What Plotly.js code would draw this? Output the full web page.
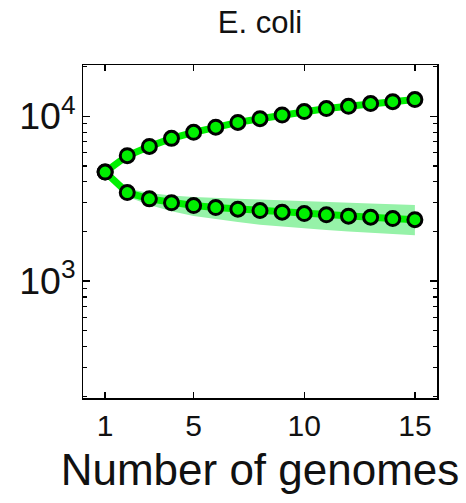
<!DOCTYPE html>
<html>
<head>
<meta charset="utf-8">
<script src="https://cdn.plot.ly/plotly-3.0.1.min.js"></script>
<style>
  html, body { margin: 0; padding: 0; background: #ffffff; }
  #chart { width: 466px; height: 503px; }
</style>
</head>
<body>
<div id="chart"></div>
<script>
// Pan- and core-genome size of E. coli versus number of sampled genomes
const genomes = [1, 2, 3, 4, 5, 6, 7, 8, 9, 10, 11, 12, 13, 14, 15];
const panGenome = [4590, 5770, 6570, 7350, 8000, 8600, 9190, 9680, 10190, 10690, 11150, 11510, 11950, 12280, 12640];
const coreGenome = [4590, 3446, 3155, 2985, 2873, 2793, 2731, 2679, 2619, 2570, 2523, 2477, 2443, 2395, 2359];
// spread of the core-genome estimate
const coreUpper = [4590, 3650, 3420, 3310, 3240, 3190, 3160, 3130, 3090, 3050, 3020, 2990, 2960, 2930, 2900];
const coreLower = [4590, 3250, 2900, 2650, 2480, 2370, 2280, 2200, 2140, 2080, 2040, 2000, 1960, 1930, 1900];
const xTicks = [1, 5, 10, 15];

const GREEN = '#00f000';
const BAND = '#96f2a8';
const FONT = '"Liberation Sans", Arial, Helvetica, sans-serif';

const marker = {
  symbol: 'circle',
  size: 14,
  color: GREEN,
  line: { color: '#000000', width: 3 }
};

const traces = [
  {
    x: genomes, y: coreUpper, type: 'scatter', mode: 'lines',
    line: { width: 0, color: BAND }, hoverinfo: 'skip', showlegend: false
  },
  {
    x: genomes, y: coreLower, type: 'scatter', mode: 'lines',
    line: { width: 0, color: BAND }, fill: 'tonexty', fillcolor: BAND,
    hoverinfo: 'skip', showlegend: false
  },
  {
    x: genomes, y: coreGenome, type: 'scatter', mode: 'lines+markers',
    name: 'Core genome', line: { color: GREEN, width: 7 }, marker: marker
  },
  {
    x: genomes, y: panGenome, type: 'scatter', mode: 'lines+markers',
    name: 'Pan genome', line: { color: GREEN, width: 7 }, marker: marker
  }
];

const layout = {
  width: 466,
  height: 503,
  margin: { l: 83, r: 29, t: 65, b: 105 },
  paper_bgcolor: '#ffffff',
  plot_bgcolor: '#ffffff',
  showlegend: false,
  font: { family: FONT, color: '#111111' },
  title: {
    text: 'E. coli',
    font: { family: FONT, size: 31, color: '#111111' },
    x: 0.5, xref: 'paper', xanchor: 'center',
    y: 0.955, yref: 'container', yanchor: 'middle'
  },
  xaxis: {
    range: [0, 16],
    tickvals: xTicks,
    ticktext: xTicks.map(String),
    ticks: 'inside', ticklen: 6, tickwidth: 1.5, tickcolor: '#000000',
    showline: true, linecolor: '#000000', linewidth: 1.5, mirror: 'ticks',
    showgrid: false, zeroline: false,
    tickfont: { family: FONT, size: 30, color: '#111111' },
    title: {
      text: 'Number of genomes',
      font: { family: FONT, size: 44, color: '#111111' },
      standoff: 13
    }
  },
  yaxis: {
    type: 'log',
    range: [Math.log10(195), Math.log10(20500)],
    dtick: 1,
    exponentformat: 'power',
    showexponent: 'all',
    ticks: 'inside', ticklen: 7, tickwidth: 1.5, tickcolor: '#000000',
    minor: { ticks: 'inside', ticklen: 4, tickwidth: 1.2, tickcolor: '#000000', dtick: 'D1', showgrid: false },
    showline: true, linecolor: '#000000', linewidth: 1.5, mirror: 'ticks',
    showgrid: false, zeroline: false,
    ticklabelstandoff: 0,
    tickfont: { family: FONT, size: 30, color: '#111111' }
  }
};

Plotly.newPlot('chart', traces, layout, { displayModeBar: false, staticPlot: true });
</script>
</body>
</html>
